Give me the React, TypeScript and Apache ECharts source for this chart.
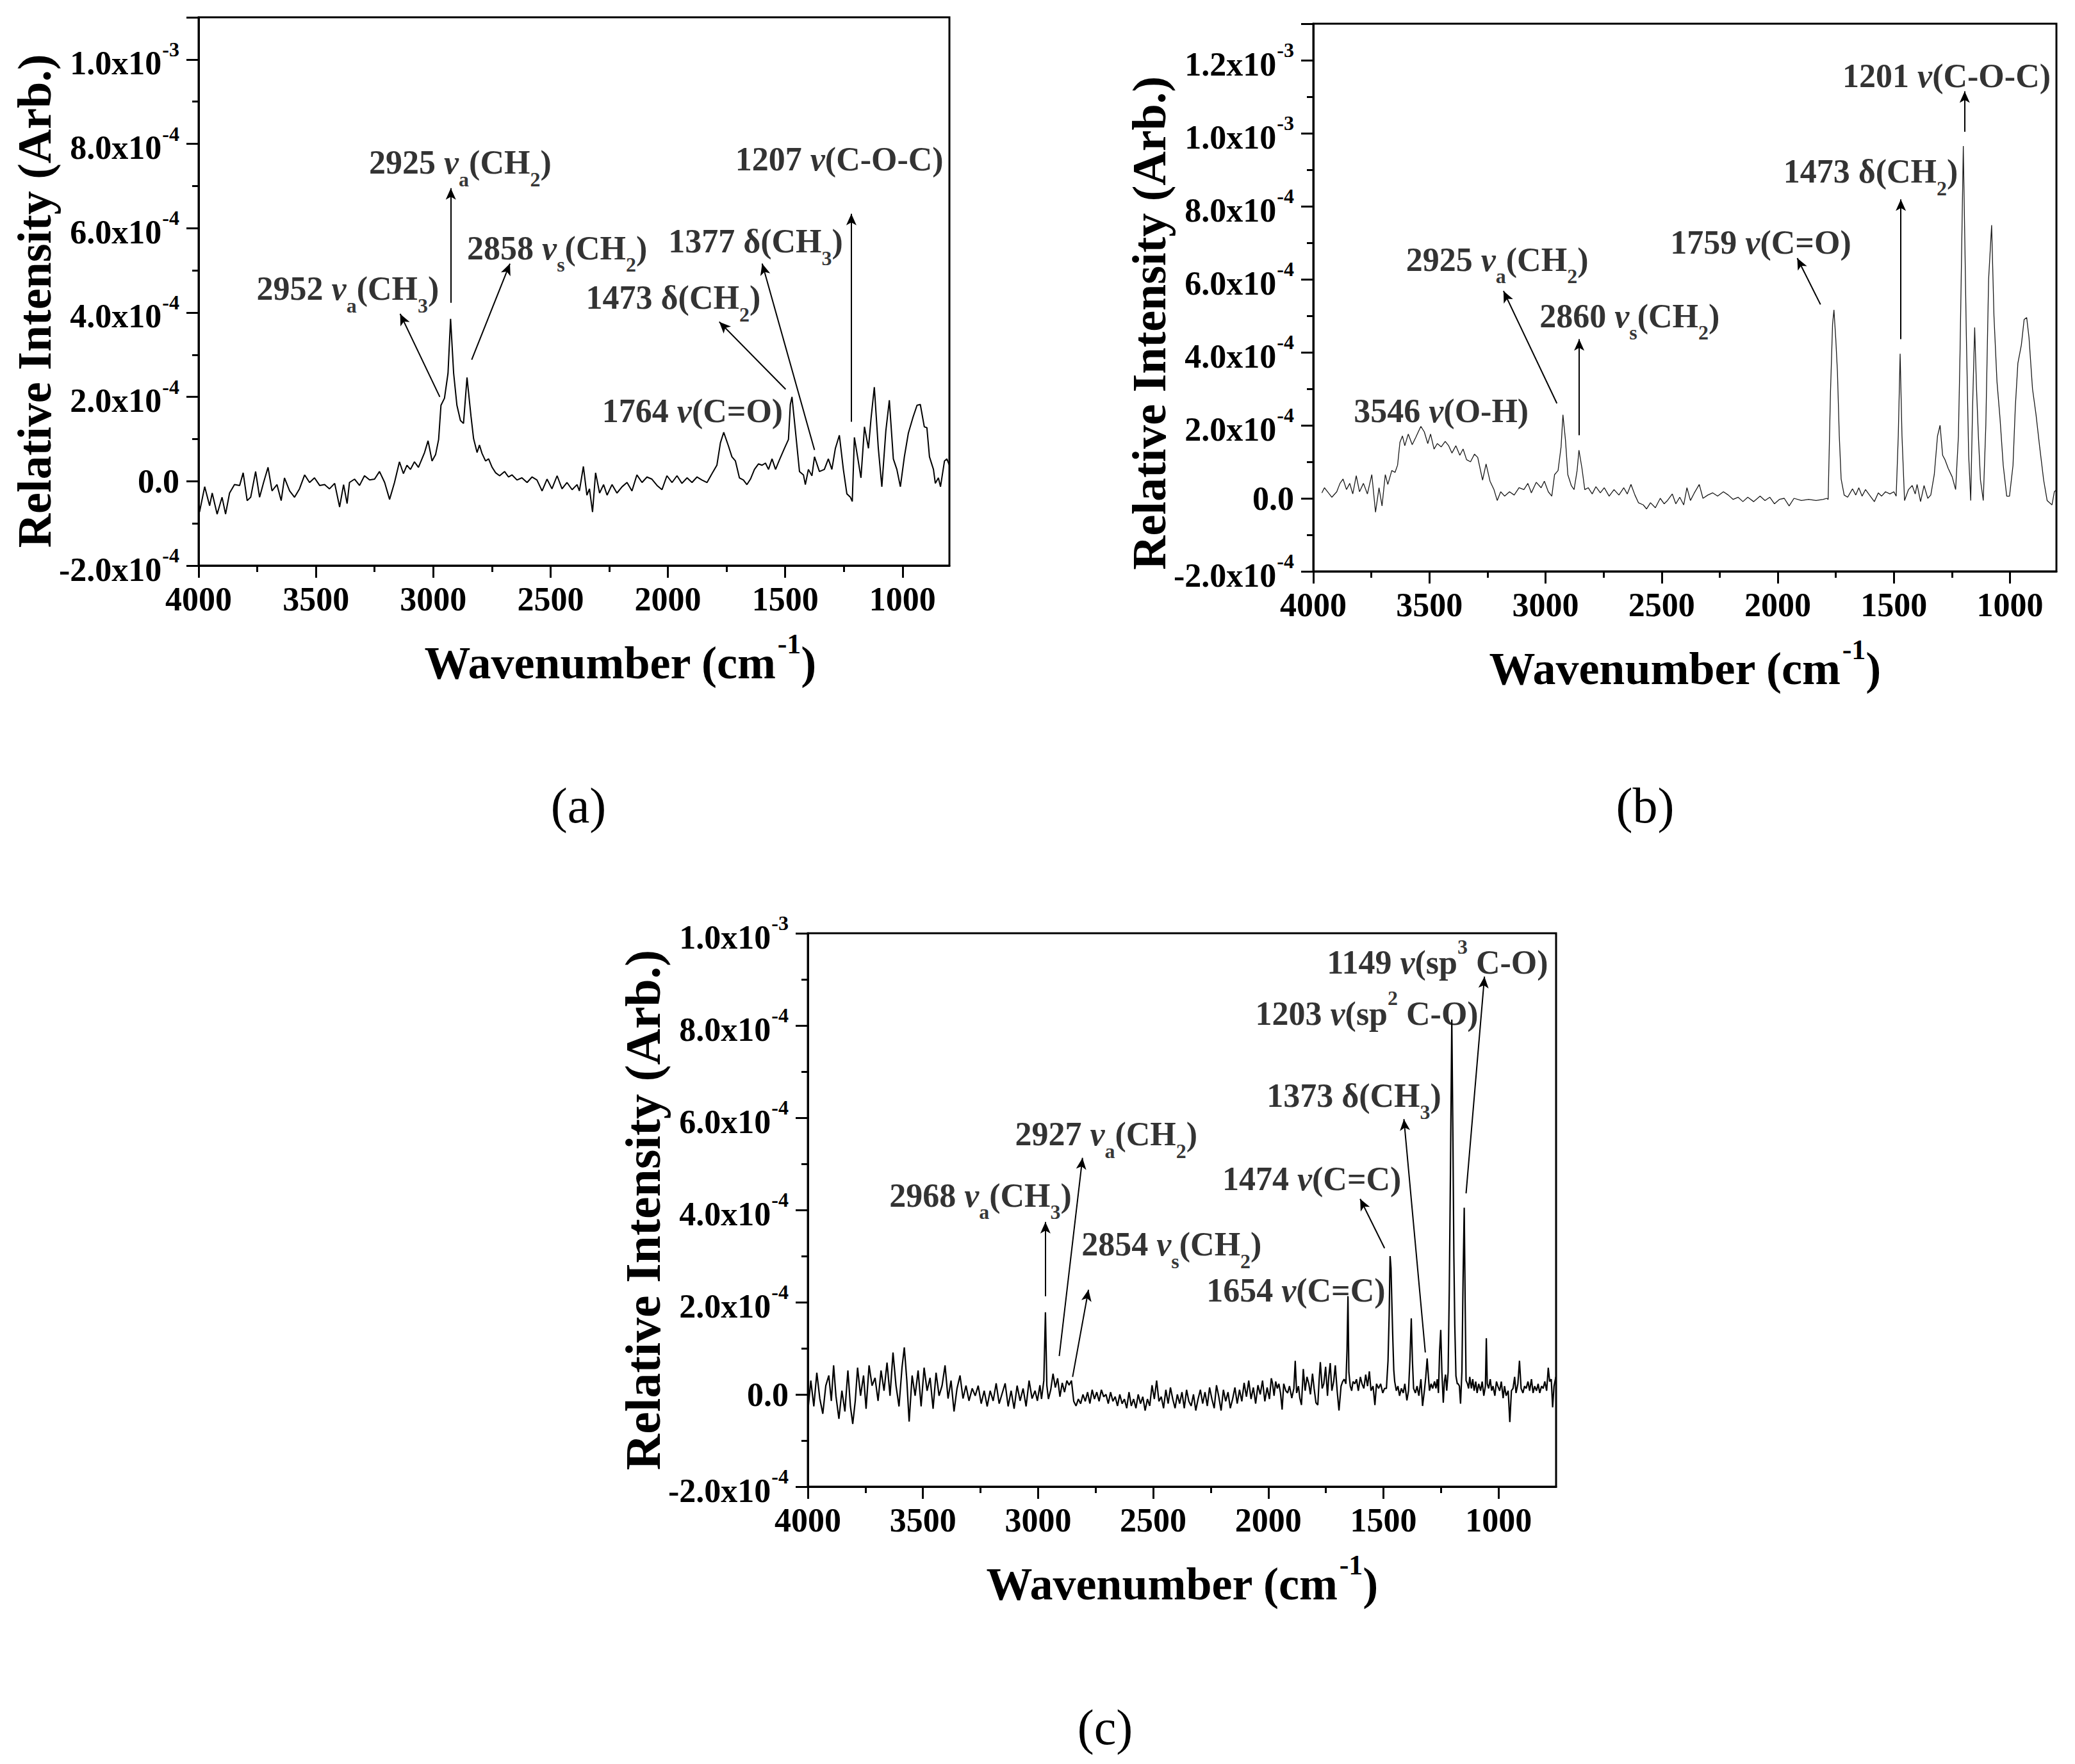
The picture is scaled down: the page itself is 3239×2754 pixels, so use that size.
import React, { useEffect, useRef } from 'react';
import * as echarts from 'echarts';

const FONT = "'Liberation Serif', 'Times New Roman', serif";

// ---- spectra, values in units of 1e-4 ----
const specA: number[][] = [
[4000,-0.23],[3996,-0.73],[3974,-0.13],[3953,-0.58],[3942,-0.28],[3921,-0.78],[3900,-0.38],[3885,-0.78],[3868,-0.28],[3847,-0.08],[3825,-0.10],[3810,0.20],[3793,-0.46],[3778,-0.38],[3757,0.23],[3740,-0.38],[3723,-0.03],[3704,0.33],[3687,-0.23],[3666,-0.08],[3648,-0.46],[3634,0.08],[3612,-0.23],[3591,-0.38],[3570,-0.18],[3548,0.15],[3527,-0.03],[3506,0.08],[3484,-0.10],[3463,-0.08],[3442,-0.18],[3420,-0.05],[3399,-0.61],[3382,-0.08],[3367,-0.53],[3357,-0.03],[3335,0.05],[3314,-0.10],[3293,0.13],[3271,0.03],[3250,0.05],[3229,0.23],[3207,-0.03],[3186,-0.43],[3165,-0.03],[3144,0.46],[3127,0.18],[3112,0.38],[3097,0.28],[3080,0.46],[3063,0.33],[3048,0.53],[3037,0.68],[3022,0.96],[3005,0.48],[2990,0.63],[2977,0.99],[2967,1.80],[2952,1.97],[2937,2.56],[2926,3.85],[2913,2.56],[2899,1.80],[2884,1.44],[2871,1.37],[2856,2.46],[2839,1.54],[2828,1.01],[2813,0.68],[2803,0.86],[2792,0.66],[2777,0.48],[2764,0.53],[2749,0.33],[2734,0.20],[2717,0.13],[2696,0.23],[2679,0.10],[2664,0.15],[2643,0.03],[2622,0.08],[2600,-0.03],[2579,0.10],[2558,0.03],[2536,-0.23],[2515,0.05],[2494,-0.18],[2472,0.13],[2451,-0.18],[2430,-0.03],[2408,-0.20],[2387,-0.08],[2377,-0.23],[2360,0.35],[2345,-0.33],[2334,-0.18],[2321,-0.73],[2308,0.20],[2291,-0.28],[2274,-0.08],[2259,-0.33],[2238,-0.08],[2217,-0.28],[2195,-0.13],[2174,-0.03],[2153,-0.23],[2132,0.15],[2110,-0.03],[2089,0.10],[2068,0.05],[2046,-0.10],[2025,-0.20],[2004,0.13],[1982,-0.03],[1961,0.13],[1940,-0.05],[1918,0.08],[1897,-0.03],[1876,0.10],[1855,0.03],[1833,-0.03],[1812,0.18],[1791,0.38],[1776,0.91],[1762,1.16],[1742,0.84],[1727,0.58],[1712,0.48],[1695,0.08],[1678,0.03],[1663,-0.08],[1648,0.05],[1631,0.28],[1614,0.41],[1599,0.38],[1584,0.43],[1571,0.28],[1556,0.53],[1541,0.28],[1524,0.51],[1503,0.78],[1486,0.99],[1478,1.82],[1471,2.00],[1458,1.29],[1439,0.23],[1422,0.15],[1414,-0.08],[1401,0.28],[1386,0.13],[1375,0.58],[1354,0.23],[1333,0.28],[1316,0.53],[1301,0.28],[1286,0.78],[1269,1.09],[1252,0.28],[1237,-0.30],[1222,-0.38],[1214,-0.48],[1205,1.04],[1190,0.53],[1177,0.08],[1162,1.29],[1145,0.78],[1134,1.49],[1120,2.23],[1103,0.78],[1088,-0.13],[1071,1.19],[1056,1.92],[1039,0.53],[1024,0.28],[1009,-0.13],[992,0.58],[975,1.14],[955,1.52],[938,1.80],[924,1.82],[907,1.29],[896,1.27],[885,0.58],[868,0.28],[860,-0.05],[847,0.08],[838,-0.13],[821,0.48],[811,0.53],[800,0.38]
];

const specB: number[][] = [
[3963,0.15],[3952,0.29],[3935,0.15],[3920,0.03],[3899,0.18],[3885,0.41],[3872,0.53],[3857,0.24],[3843,0.41],[3830,0.12],[3815,0.62],[3801,0.18],[3784,0.41],[3767,0.12],[3748,0.65],[3732,-0.38],[3717,0.29],[3704,-0.21],[3690,0.65],[3679,0.38],[3662,0.76],[3648,0.71],[3637,0.91],[3627,1.53],[3616,1.71],[3606,1.44],[3591,1.76],[3574,1.47],[3558,1.68],[3537,1.97],[3522,1.82],[3507,1.50],[3495,1.76],[3480,1.35],[3466,1.50],[3449,1.41],[3432,1.56],[3417,1.44],[3403,1.24],[3386,1.44],[3369,1.18],[3355,1.35],[3340,1.06],[3323,1.00],[3306,1.21],[3292,1.12],[3271,0.50],[3256,0.94],[3239,0.47],[3222,0.24],[3208,-0.06],[3193,0.18],[3176,0.06],[3155,0.18],[3135,0.09],[3114,0.29],[3093,0.24],[3076,0.41],[3061,0.15],[3040,0.44],[3019,0.29],[3005,0.47],[2988,0.18],[2973,0.06],[2961,0.65],[2946,0.76],[2933,1.41],[2925,2.29],[2914,1.59],[2904,0.65],[2889,0.35],[2877,0.24],[2864,0.76],[2856,1.32],[2843,0.82],[2831,0.24],[2816,0.29],[2799,0.12],[2783,0.32],[2764,0.15],[2747,0.29],[2726,0.06],[2705,0.24],[2684,0.09],[2663,0.29],[2648,0.12],[2632,0.38],[2615,0.09],[2600,-0.12],[2579,-0.18],[2565,-0.29],[2548,-0.12],[2527,-0.26],[2506,0.00],[2489,-0.15],[2475,-0.06],[2454,0.12],[2439,-0.15],[2422,0.03],[2405,-0.18],[2391,0.29],[2376,-0.06],[2359,0.15],[2338,0.38],[2322,0.00],[2301,0.09],[2280,0.15],[2259,0.06],[2234,0.18],[2213,0.09],[2192,-0.03],[2171,0.03],[2150,-0.09],[2129,0.03],[2104,-0.09],[2076,0.06],[2055,-0.06],[2034,0.03],[2014,-0.15],[1993,-0.03],[1972,0.00],[1951,-0.21],[1930,0.00],[1898,-0.06],[1867,-0.03],[1835,-0.06],[1804,-0.03],[1789,0.00],[1783,-0.03],[1773,2.88],[1764,4.76],[1758,5.16],[1750,4.35],[1743,3.47],[1735,1.71],[1727,0.53],[1714,0.09],[1699,0.03],[1678,0.26],[1664,0.09],[1651,0.29],[1637,0.06],[1622,0.24],[1605,0.09],[1584,-0.09],[1567,0.15],[1553,0.06],[1536,0.18],[1517,0.12],[1500,0.18],[1490,0.06],[1481,1.71],[1473,3.96],[1465,1.71],[1454,-0.06],[1437,0.24],[1421,0.35],[1408,0.12],[1400,0.38],[1385,-0.09],[1370,0.35],[1354,0.00],[1341,0.09],[1326,0.65],[1312,1.71],[1301,2.00],[1290,1.18],[1280,1.06],[1266,0.82],[1249,0.59],[1234,0.24],[1222,1.71],[1215,4.0],[1201,9.65],[1188,4.5],[1178,1.2],[1169,-0.06],[1161,2.5],[1152,4.68],[1144,3.0],[1136,1.7],[1127,0.5],[1115,-0.06],[1104,2.0],[1092,6.0],[1079,7.48],[1069,5.0],[1056,3.2],[1043,2.2],[1029,0.9],[1014,0.06],[1002,0.06],[987,0.9],[977,2.5],[966,3.7],[951,4.2],[939,4.9],[928,4.95],[918,4.4],[903,3.0],[888,2.3],[872,1.4],[855,0.5],[840,-0.06],[830,-0.12],[819,-0.18],[809,0.18],[799,0.24]
];

const specC: number[][] = [
[4000,-0.37],[3987,0.3],[3974,-0.26],[3961,0.47],[3948,-0.09],[3935,-0.42],[3922,0.19],[3909,0.41],[3898,-0.14],[3888,0.63],[3878,-0.03],[3865,-0.53],[3852,0.08],[3839,-0.37],[3826,0.52],[3815,-0.26],[3805,-0.64],[3794,-0.14],[3784,0.58],[3771,-0.03],[3758,0.41],[3747,-0.31],[3734,0.63],[3721,0.19],[3708,0.36],[3695,-0.14],[3682,0.52],[3669,0.08],[3656,0.69],[3643,-0.03],[3630,0.91],[3617,0.19],[3604,-0.26],[3591,0.58],[3581,1.02],[3570,0.3],[3560,-0.59],[3547,0.41],[3534,-0.03],[3521,0.52],[3508,-0.26],[3495,0.58],[3482,0.08],[3469,0.36],[3456,-0.31],[3443,0.47],[3430,-0.03],[3417,0.19],[3404,0.63],[3391,-0.09],[3378,0.3],[3365,-0.37],[3352,0.13],[3339,0.41],[3326,-0.09],[3313,0.19],[3300,-0.14],[3286,0.13],[3273,-0.03],[3260,0.19],[3247,-0.2],[3234,0.08],[3221,-0.26],[3208,0.08],[3195,-0.14],[3182,0.24],[3169,-0.2],[3156,0.02],[3143,0.24],[3130,-0.26],[3117,0.08],[3104,-0.31],[3091,0.19],[3078,-0.14],[3065,0.13],[3052,-0.26],[3039,0.3],[3026,-0.09],[3013,0.08],[3003,-0.14],[2992,0.2],[2985,-0.1],[2975,0.3],[2968,1.78],[2962,0.2],[2955,-0.1],[2945,0.1],[2935,0.45],[2925,0.15],[2915,0.35],[2905,-0.05],[2895,0.25],[2885,0.05],[2875,0.3],[2865,0.2],[2855,0.3],
[2845,-0.15],[2835,-0.25],[2825,-0.1],[2815,-0.2],[2805,0.0],[2795,-0.15],[2785,0.05],[2775,-0.2],[2765,0.1],[2755,-0.1],[2745,0.05],[2735,-0.15],[2725,0.1],[2715,-0.05],[2705,0.0],[2695,-0.2],[2685,0.05],[2675,-0.15],[2665,-0.05],[2655,-0.25],[2645,0.0],[2635,-0.2],[2625,-0.1],[2615,-0.3],[2605,0.05],[2595,-0.25],[2585,-0.1],[2575,-0.3],[2565,0.0],[2555,-0.2],[2545,-0.05],[2535,-0.35],[2525,-0.1],[2515,-0.25],[2505,0.2],[2495,-0.1],[2485,0.3],[2475,-0.15],[2465,-0.05],[2455,-0.3],[2445,0.1],[2435,-0.2],[2425,0.15],[2415,-0.1],[2405,-0.3],[2395,0.0],[2385,-0.2],[2375,0.05],[2365,-0.3],[2355,0.1],[2345,-0.15],[2335,-0.25],[2325,0.0],[2315,-0.35],[2305,-0.1],[2295,0.1],[2285,-0.2],[2275,0.05],[2265,-0.25],[2255,0.15],[2245,-0.1],[2235,-0.3],[2225,0.2],[2215,-0.05],[2205,-0.35],[2195,0.1],[2185,-0.15],[2175,0.05],[2165,-0.3],[2155,-0.1],[2145,0.15],[2135,-0.2],[2125,0.1],[2115,-0.15],[2105,0.25],[2095,-0.05],[2085,0.3],[2075,-0.1],[2065,0.15],[2055,-0.2],[2045,0.2],[2035,0.0],[2025,0.3],[2015,-0.15],[2005,0.15],[1995,-0.1],[1987,0.35],
[1982,0.25],[1975,-0.03],[1968,0.28],[1961,0.13],[1954,0.23],[1947,0.03],[1940,-0.33],[1933,0.23],[1924,0.08],[1916,0.03],[1908,0.18],[1898,-0.08],[1889,0.13],[1883,0.73],[1877,0.03],[1869,0.18],[1863,-0.08],[1856,-0.23],[1848,0.55],[1840,0.08],[1832,0.38],[1824,0.23],[1817,0.0],[1808,0.45],[1801,0.13],[1793,-0.18],[1785,-0.23],[1779,0.33],[1774,0.7],[1766,0.13],[1759,0.23],[1751,0.6],[1743,-0.03],[1737,0.4],[1731,0.68],[1724,0.08],[1716,0.28],[1709,0.63],[1701,0.08],[1693,-0.35],[1684,0.18],[1677,0.28],[1670,0.33],[1663,0.23],[1658,0.98],[1654,2.13],[1650,0.48],[1644,0.18],[1638,0.08],[1632,0.28],[1624,0.23],[1617,0.33],[1609,0.08],[1600,0.38],[1593,0.23],[1585,0.13],[1577,0.43],[1569,0.18],[1561,0.5],[1554,0.08],[1545,0.18],[1537,-0.23],[1530,0.23],[1521,0.13],[1512,0.23],[1503,0.03],[1495,0.13],[1487,0.13],[1480,0.73],[1475,1.73],[1471,3.0],[1467,2.73],[1462,1.73],[1459,1.18],[1455,0.53],[1451,0.28],[1444,0.08],[1437,0.18],[1430,-0.03],[1422,0.13],[1414,0.03],[1407,0.23],[1398,-0.13],[1391,0.08],[1385,0.73],[1379,1.65],[1374,0.73],[1369,0.13],[1361,0.03],[1354,0.18],[1346,-0.03],[1337,0.33],[1330,-0.25],[1322,0.08],[1316,0.38],[1310,0.78],[1306,0.48],[1300,0.08],[1293,0.23],[1286,0.13],[1278,0.28],[1272,0.13],[1266,0.33],[1261,0.03],[1256,0.93],[1251,1.4],[1246,0.48],[1240,-0.18],[1235,0.28],[1230,0.43],[1225,0.08],[1219,0.48],[1214,2.23],[1209,4.73],[1203,8.13],[1198,5.5],[1194,3.0],[1190,1.5],[1185,0.4],[1179,0.23],[1175,0.23],[1170,0.18],[1165,-0.2],[1159,0.5],[1154,2.5],[1149,4.05],[1145,2.0],[1141,0.3],[1135,0.23],[1130,0.13],[1125,0.38],[1118,0.13],[1112,0.33],[1106,0.08],[1099,0.28],[1093,0.03],[1086,0.23],[1078,0.08],[1071,0.28],[1064,-0.03],[1057,0.18],[1053,1.22],[1049,0.23],[1043,0.13],[1036,0.33],[1030,0.08],[1024,0.18],[1016,-0.03],[1009,0.28],[1003,0.18],[995,0.08],[988,0.28],[980,-0.08],[974,0.18],[967,-0.03],[958,0.08],[951,-0.6],[944,0.08],[937,0.13],[930,0.38],[924,0.03],[916,0.23],[909,0.73],[902,0.13],[894,0.03],[887,0.18],[880,0.13],[872,0.28],[865,0.08],[857,0.33],[850,0.03],[843,0.18],[835,0.08],[828,0.23],[821,0.03],[813,0.18],[806,0.13],[799,0.28],[791,0.08],[784,0.58],[778,0.28],[771,0.33],[765,-0.28],[759,0.18],[751,0.38]
];

// ---- tick labels ----
const xMajorTicks = [1000, 1500, 2000, 2500, 3000, 3500, 4000];
const xMinorTicks = [1250, 1750, 2250, 2750, 3250, 3750];
const yTickText: Record<string, string[]> = {
  '-2': ['-2.0x10', '-4'], '0': ['0.0'], '2': ['2.0x10', '-4'], '4': ['4.0x10', '-4'],
  '6': ['6.0x10', '-4'], '8': ['8.0x10', '-4'], '10': ['1.0x10', '-3'], '12': ['1.2x10', '-3'],
};
const panelLetters = ['(a)', '(b)', '(c)'];
const xTitleParts = ['Wavenumber (cm', '-1', ')'];
const yTitle = 'Relative Intensity (Arb.)';

// ---- peak annotations (data coordinates, 1e-4 units) ----
type Ann = { t: string; at: number[]; arrow?: number[][] };
const annA: Ann[] = [
  { t: '{b|2925 }{i|v}{sub|a}{b|(CH}{sub|2}{b|)}', at: [2885, 7.54], arrow: [[2925, 4.23], [2925, 6.95]] },
  { t: '{b|2952 }{i|v}{sub|a}{b|(CH}{sub|3}{b|)}', at: [3364, 4.55], arrow: [[2972, 2.0], [3141, 3.97]] },
  { t: '{b|2858 }{i|v}{sub|s}{b|(CH}{sub|2}{b|)}', at: [2472, 5.51], arrow: [[2836, 2.88], [2673, 5.16]] },
  { t: '{b|1377 δ(CH}{sub|3}{b|)}', at: [1626, 5.67], arrow: [[1375, 0.74], [1598, 5.16]] },
  { t: '{b|1473 δ(CH}{sub|2}{b|)}', at: [1977, 4.34], arrow: [[1498, 2.18], [1781, 3.78]] },
  { t: '{b|1764 }{i|v}{b|(C=O)}', at: [1895, 1.78] },
  { t: '{b|1207 }{i|v}{b|(C-O-C)}', at: [1269, 7.75], arrow: [[1218, 1.41], [1218, 6.34]] },
];
const annB: Ann[] = [
  { t: '{b|3546 }{i|v}{b|(O-H)}', at: [3449, 2.51] },
  { t: '{b|2925 }{i|v}{sub|a}{b|(CH}{sub|2}{b|)}', at: [3208, 6.52], arrow: [[2951, 2.6], [3181, 5.68]] },
  { t: '{b|2860 }{i|v}{sub|s}{b|(CH}{sub|2}{b|)}', at: [2638, 4.98], arrow: [[2855, 1.73], [2855, 4.36]] },
  { t: '{b|1759 }{i|v}{b|(C=O)}', at: [2073, 7.14], arrow: [[1816, 5.31], [1916, 6.58]] },
  { t: '{b|1473 δ(CH}{sub|2}{b|)}', at: [1600, 8.93], arrow: [[1470, 4.36], [1470, 8.19]] },
  { t: '{b|1201 }{i|v}{b|(C-O-C)}', at: [1273, 11.7], arrow: [[1195, 10.04], [1195, 11.15]] },
];
const annC: Ann[] = [
  { t: '{b|2968 }{i|v}{sub|a}{b|(CH}{sub|3}{b|)}', at: [3250, 4.3], arrow: [[2968, 2.13], [2968, 3.74]] },
  { t: '{b|2927 }{i|v}{sub|a}{b|(CH}{sub|2}{b|)}', at: [2704, 5.63], arrow: [[2908, 0.83], [2807, 5.13]] },
  { t: '{b|2854 }{i|v}{sub|s}{b|(CH}{sub|2}{b|)}', at: [2420, 3.24], arrow: [[2850, 0.38], [2781, 2.27]] },
  { t: '{b|1654 }{i|v}{b|(C=C)}', at: [1880, 2.36] },
  { t: '{b|1474 }{i|v}{b|(C=C)}', at: [1811, 4.77], arrow: [[1495, 3.17], [1601, 4.24]] },
  { t: '{b|1373 δ(CH}{sub|3}{b|)}', at: [1628, 6.47], arrow: [[1318, 0.91], [1411, 5.97]] },
  { t: '{b|1203 }{i|v}{b|(sp}{sup|2}{b| C-O)}', at: [1572, 8.36] },
  { t: '{b|1149 }{i|v}{b|(sp}{sup|3}{b| C-O)}', at: [1265, 9.47], arrow: [[1141, 4.36], [1061, 9.06]] },
];

const panels = [
  { spec: specA, ann: annA, xMin: 800, yMax: 11, grid: { left: 310, top: 27, width: 1172, height: 856 }, lw: 2, color: '#000', yTitleShift: 15, xTitleShift: 72, yTitleSize: 74, letter: [903, 1257] },
  { spec: specB, ann: annB, xMin: 800, yMax: 13, grid: { left: 2050, top: 37, width: 1160, height: 855 }, lw: 1.3, color: '#1a1a1a', yTitleShift: 40, xTitleShift: 0, yTitleSize: 74, letter: [2568, 1257] },
  { spec: specC, ann: annC, xMin: 750, yMax: 10, grid: { left: 1261, top: 1457, width: 1168, height: 864 }, lw: 2.2, color: '#000', yTitleShift: 0, xTitleShift: 0, yTitleSize: 78, letter: [1725, 2696] },
];

const black = '#000';
const tickRich = {
  m: { fontFamily: FONT, fontWeight: 'bold', fontSize: 52, color: black, verticalAlign: 'top', padding: [12, 0, 0, 0] },
  s: { fontFamily: FONT, fontWeight: 'bold', fontSize: 32, color: black, verticalAlign: 'top', padding: [0, 0, 0, 1] },
  p: { fontFamily: FONT, fontWeight: 'bold', fontSize: 52, color: black },
};
const annRich = {
  b: { fontFamily: FONT, fontWeight: 'bold', fontSize: 52, color: black, verticalAlign: 'top', padding: [14, 0, 0, 0] },
  i: { fontFamily: FONT, fontWeight: 'bold', fontStyle: 'italic', fontSize: 52, color: black, verticalAlign: 'top', padding: [14, 0, 0, 0] },
  sub: { fontFamily: FONT, fontWeight: 'bold', fontSize: 32, color: black, verticalAlign: 'top', padding: [50, 0, 0, 0] },
  sup: { fontFamily: FONT, fontWeight: 'bold', fontSize: 32, color: black, verticalAlign: 'top', padding: [0, 0, 0, 0] },
};
const xTitleRich = {
  t: { fontFamily: FONT, fontWeight: 'bold', fontSize: 72, color: black, verticalAlign: 'top', padding: [16, 0, 0, 0] },
  s: { fontFamily: FONT, fontWeight: 'bold', fontSize: 44, color: black, verticalAlign: 'top', padding: [0, 0, 0, 2] },
};

function buildOption() {
  const grid: any[] = [];
  const xAxis: any[] = [];
  const yAxis: any[] = [];
  const series: any[] = [];
  const graphic: any[] = [];
  panels.forEach((p, i) => {
    grid.push({ ...p.grid, show: true, borderColor: black, borderWidth: 3, backgroundColor: 'transparent', containLabel: false, outerBoundsMode: 'none' });
    xAxis.push({
      gridIndex: i, type: 'value', min: p.xMin, max: 4000, inverse: true, position: 'bottom',
      axisLine: { show: true, onZero: false, lineStyle: { color: black, width: 3 } },
      axisTick: { show: true, length: 19, customValues: xMajorTicks, lineStyle: { color: black, width: 3 } },
      axisLabel: {
        customValues: xMajorTicks, margin: 26, fontFamily: FONT, fontWeight: 'bold', fontSize: 52, color: black,
        formatter: (v: number) => String(Math.round(v)),
      },
      splitLine: { show: false },
      name: `{t|${xTitleParts[0]}}{s|${xTitleParts[1]}}{t|${xTitleParts[2]}}`,
      nameLocation: 'middle', nameGap: 100, nameMoveOverlap: false,
      nameTextStyle: { rich: xTitleRich, padding: [0, 0, 0, 2 * p.xTitleShift] },
    });
    xAxis.push({
      gridIndex: i, type: 'value', min: p.xMin, max: 4000, inverse: true, position: 'bottom', offset: 0,
      axisLine: { show: false, onZero: false },
      axisTick: { show: true, length: 10, customValues: xMinorTicks, lineStyle: { color: black, width: 3 } },
      axisLabel: { show: false }, splitLine: { show: false },
    });
    yAxis.push({
      gridIndex: i, type: 'value', min: -2, max: p.yMax, interval: 2,
      axisLine: { show: true, onZero: false, lineStyle: { color: black, width: 3 } },
      axisTick: { show: true, length: 19, lineStyle: { color: black, width: 3 } },
      minorTick: { show: true, splitNumber: 2, length: 10, lineStyle: { color: black, width: 3 } },
      axisLabel: {
        margin: 30, rich: tickRich, color: black,
        formatter: (v: number) => {
          const t = yTickText[String(Math.round(v))];
          if (!t) return '';
          return t[1] ? `{m|${t[0]}}{s|${t[1]}}` : `{p|${t[0]}}`;
        },
      },
      splitLine: { show: false }, minorSplitLine: { show: false },
      name: yTitle, nameLocation: 'middle', nameGap: 219, nameRotate: 90, nameMoveOverlap: false,
      nameTextStyle: { fontFamily: FONT, fontWeight: 'bold', fontSize: p.yTitleSize, color: black, padding: [0, 2 * p.yTitleShift, 0, 0] },
    });
    series.push({
      type: 'line', xAxisIndex: 2 * i, yAxisIndex: i, data: p.spec, showSymbol: false, symbol: 'none',
      lineStyle: { color: p.color, width: p.lw }, silent: true, clip: true, z: 2,
    });
    series.push({
      type: 'scatter', xAxisIndex: 2 * i, yAxisIndex: i, symbolSize: 1, silent: true, z: 3,
      itemStyle: { color: 'rgba(0,0,0,0)' },
      label: { show: true, position: 'inside', align: 'center', verticalAlign: 'middle', color: black, rich: annRich },
      data: p.ann.map((a) => ({ value: a.at, label: { formatter: a.t } })),
      markLine: {
        silent: true, symbol: ['none', 'arrow'], symbolSize: [12, 18],
        lineStyle: { color: black, width: 2, type: 'solid' }, label: { show: false },
        emphasis: { disabled: true },
        data: p.ann.filter((a) => a.arrow).map((a) => [{ coord: a.arrow![0] }, { coord: a.arrow![1] }]),
      },
    });
    graphic.push({
      type: 'text', x: p.letter[0], y: p.letter[1],
      style: { text: panelLetters[i], fontFamily: FONT, fontSize: 78, fill: black, align: 'center', verticalAlign: 'middle' },
    });
  });
  return { animation: false, backgroundColor: '#fff', grid, xAxis, yAxis, series, graphic };
}

export default function App() {
  const ref = useRef<HTMLDivElement>(null);
  useEffect(() => {
    const chart = echarts.init(ref.current!, null, { renderer: 'svg' });
    chart.setOption(buildOption() as any);
    return () => chart.dispose();
  }, []);
  return <div ref={ref} style={{ position: 'absolute', left: 0, top: 0, width: 3239, height: 2754, background: '#fff' }} />;
}
